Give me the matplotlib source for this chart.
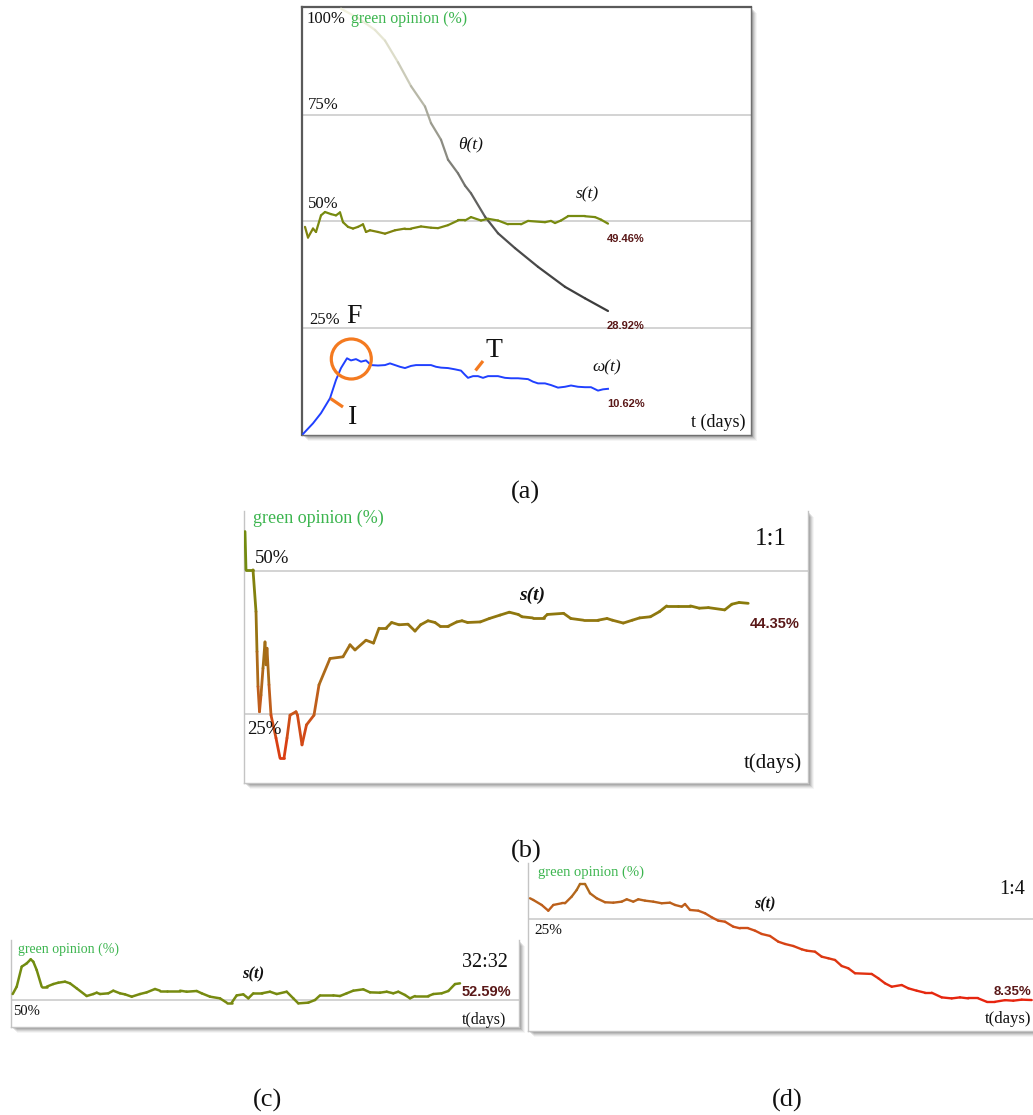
import numpy as np
import matplotlib
matplotlib.use("Agg")
import matplotlib.pyplot as plt
from matplotlib.collections import LineCollection
from matplotlib.colors import LinearSegmentedColormap, Normalize
from matplotlib.patches import Rectangle, Circle
from matplotlib.lines import Line2D

# ---------------- data ----------------
# panel (a)
a_s_t = [2, 5, 10, 13, 18, 22, 28, 33, 37, 40, 45, 50, 55, 60, 63, 67, 75, 82, 92, 102, 108, 118,
         128, 135, 145, 155, 162, 168, 178, 185, 195, 205, 218, 225, 242, 248, 252, 258, 265, 282,
         292, 298, 305]
a_s_v = [48.7, 46.2, 48.3, 47.5, 51.4, 52.2, 51.7, 51.4, 52.1, 49.8, 48.7, 48.3, 48.7, 49.3, 47.5,
         47.9, 47.5, 47.1, 47.9, 48.3, 48.3, 48.8, 48.5, 48.4, 49.1, 50.2, 50.2, 51.0, 50.2, 50.6,
         50.2, 49.3, 49.3, 50.1, 49.8, 50.1, 49.6, 50.2, 51.2, 51.2, 51.0, 50.4, 49.46]
a_theta_t = [38, 55, 72, 82, 95, 108, 122, 128, 138, 145, 155, 162, 168, 182, 195, 212, 235, 262,
             282, 305]
a_theta_v = [100, 97.8, 95, 92.5, 87.4, 81.8, 77.0, 73.1, 69.2, 64.5, 61.3, 58.4, 56.6, 51.1, 47.2,
             43.7, 39.3, 34.6, 31.9, 28.92]
a_omega_t = [0, 2, 10, 18, 27, 33, 38, 44, 48, 53, 58, 63, 68, 75, 82, 87, 92, 97, 102, 108, 113,
             118, 128, 133, 138, 145, 152, 158, 162, 165, 170, 175, 180, 185, 195, 202, 208, 215,
             225, 230, 235, 242, 248, 255, 262, 268, 275, 282, 288, 295, 300, 305]
a_omega_v = [0.0, 0.5, 2.5, 4.9, 8.4, 12.7, 15.5, 17.8, 17.3, 17.6, 17.0, 17.3, 16.2, 16.1, 16.2,
             16.6, 16.2, 15.8, 15.5, 16.0, 16.2, 16.2, 16.2, 15.8, 15.6, 15.5, 15.2, 14.9, 13.9,
             13.2, 13.6, 13.6, 13.2, 13.6, 13.6, 13.2, 13.1, 13.1, 12.9, 12.3, 11.9, 11.9, 11.5,
             10.9, 11.1, 11.4, 11.1, 11.0, 11.0, 10.2, 10.5, 10.62]

# panel (b)  ratio 1:1
b_t = [1, 2, 9, 12, 13, 14, 15.5, 17, 19, 21, 22, 23, 25, 27, 32, 36, 40, 43, 46, 52, 53.5, 58,
       62.5, 70, 75, 86, 99, 106, 111, 122, 129.5, 135, 142, 147.6, 155, 164, 171, 176.6, 184, 191,
       196.5, 203.7, 212.8, 218, 223.6, 236.3, 245.4, 256.2, 265.3, 274.3, 278, 288.8, 299.7,
       303.3, 319.6, 326.8, 339.5, 354, 363, 368.4, 379.3, 388.3, 395.6, 406.4, 415.5, 422.7,
       433.6, 446.3, 455.3, 464.4, 480.7, 487.9, 495.1, 504.2]
b_v = [56.9, 50.2, 50.2, 42.9, 35.9, 29.8, 25.4, 28.3, 33.0, 37.6, 33.6, 36.5, 30.1, 24.8, 20.8,
       17.3, 17.3, 20.8, 24.8, 25.4, 24.8, 19.6, 23.1, 24.8, 30.1, 34.7, 35.0, 37.1, 36.2, 37.9,
       37.4, 40.0, 40.0, 41.0, 40.6, 40.7, 39.5, 40.6, 41.3, 41.0, 40.3, 40.3, 41.1, 41.3, 41.0,
       41.1, 41.7, 42.3, 42.8, 42.4, 42.0, 41.8, 41.8, 42.4, 42.6, 41.7, 41.4, 41.4, 41.7, 41.4,
       40.9, 41.4, 41.8, 42.0, 42.9, 43.9, 43.9, 43.9, 43.5, 43.6, 43.2, 44.2, 44.5, 44.35]

# panel (c)  ratio 32:32
c_t = [1.7, 5.7, 10.7, 15.7, 19.7, 22.3, 25.7, 30.7, 35.7, 42.3, 47.3, 54, 59, 65.7, 75.7, 82.3,
       85.7, 89, 97.3, 102.3, 109, 114, 120.7, 129, 135.7, 144, 149, 155.7, 169, 175.7, 185.7,
       190.7, 199, 209, 215.7, 220.7, 225.7, 232.3, 237.3, 242.3, 250.7, 259, 265.7, 275.7, 282.3,
       287.3, 297.3, 304, 309, 322.3, 329, 335.7, 342.3, 352.3, 359, 369, 375.7, 382.3, 387.3, 394,
       399, 404, 417.3, 422.3, 430.7, 437.3, 444, 449]
c_v = [50.93, 52.07, 55.18, 55.69, 56.32, 55.95, 54.66, 52.07, 52.07, 52.48, 52.69, 52.85, 52.59,
       51.81, 50.62, 50.93, 51.14, 50.93, 51.04, 51.45, 51.04, 50.88, 50.52, 50.93, 51.19, 51.71,
       51.45, 51.45, 51.45, 51.29, 51.40, 51.04, 50.52, 50.26, 49.59, 49.59, 50.72, 50.88, 50.26,
       51.04, 51.04, 51.29, 50.93, 51.29, 50.26, 49.48, 49.59, 50.0, 50.72, 50.72, 50.62, 51.04,
       51.45, 51.66, 51.19, 51.14, 51.29, 51.04, 51.29, 50.78, 50.26, 50.62, 50.62, 50.93, 51.04,
       51.40, 52.48, 52.59]

# panel (d)  ratio 1:4
d_t = [2, 5.3, 13.7, 20.3, 25.3, 33.7, 37, 43.7, 48.7, 52, 57, 62, 68.7, 77, 85.3, 93.7, 98.7,
       105.3, 110.3, 117, 125.3, 133.7, 142, 147, 153.7, 157, 162, 170.3, 177, 183.7, 190.3, 197,
       205.3, 212, 220.3, 227, 233.7, 242, 250.3, 257, 265.3, 273.7, 278.7, 287, 293.7, 300.3, 307,
       313.7, 320.3, 327, 343.7, 350.3, 357, 363.7, 373.7, 380.3, 388.7, 397, 403.7, 413.7, 423.7,
       432, 440.3, 450.3, 458.7, 467, 477, 485.3, 493.7, 503.7]
d_v = [29.33, 28.98, 27.95, 26.77, 27.95, 28.30, 28.30, 29.67, 31.04, 32.28, 32.28, 30.36, 29.33,
       28.51, 28.42, 28.63, 29.12, 28.63, 29.12, 28.84, 28.63, 28.30, 28.42, 27.95, 27.60, 28.15,
       26.92, 26.77, 26.24, 25.41, 24.71, 24.50, 23.47, 23.14, 23.14, 22.65, 21.97, 21.56, 20.38,
       19.91, 19.49, 18.81, 18.53, 18.32, 17.29, 16.96, 16.61, 15.37, 14.90, 13.87, 13.73, 12.84,
       11.80, 11.10, 11.45, 10.77, 10.28, 9.86, 9.86, 8.90, 8.69, 8.90, 8.69, 8.69, 7.99, 7.99,
       8.33, 8.22, 8.43, 8.35]

final_labels = {"a_s": "49.46%", "a_theta": "28.92%", "a_omega": "10.62%",
                "b": "44.35%", "c": "52.59%", "d": "8.35%"}
ratios = {"b": "1:1", "c": "32:32", "d": "1:4"}

# ---------------- figure ----------------
W, H, DPI = 1033, 1115, 100
fig = plt.figure(figsize=(W / DPI, H / DPI), dpi=DPI)
fig.patch.set_facecolor("white")

SERIF = ["Liberation Serif", "DejaVu Serif"]
SANS = ["Liberation Sans", "DejaVu Sans"]
GREEN_TXT = "#3cb54f"
VAL_TXT = "#5a1818"
GRID = "#d0d0d0"

def rect(x0, y0, x1, y1):
    return [x0 / W, 1 - y1 / H, (x1 - x0) / W, (y1 - y0) / H]

def ftext(x, y, s, size, family=SERIF, color="#111111", **kw):
    fig.text(x / W, 1 - y / H, s, fontsize=size, family=family, color=color,
             ha="left", va="baseline", **kw)

def shadow(x0, y0, x1, y1):
    for k, a in [(6, 0.04), (5, 0.06), (4, 0.08), (3, 0.10), (2, 0.12)]:
        r = Rectangle(((x0 + k) / DPI, (H - y1 - k) / DPI), (x1 - x0) / DPI, (y1 - y0) / DPI,
                      transform=fig.dpi_scale_trans, facecolor="black", alpha=a,
                      edgecolor="none", zorder=-5)
        fig.add_artist(r)

def make_ax(x0, y0, x1, y1, xlim, ylim, grids, spine_col="#c4c4c4", top=False):
    ax = fig.add_axes(rect(x0, y0, x1, y1))
    ax.set_xlim(*xlim)
    ax.set_ylim(*ylim)
    ax.set_xticks([])
    ax.set_yticks([])
    ax.set_facecolor("white")
    for g in grids:
        ax.axhline(g, color=GRID, lw=1.3, zorder=1)
    for side, sp in ax.spines.items():
        sp.set_color(spine_col)
        sp.set_linewidth(1.0)
    ax.spines["top"].set_visible(top)
    return ax

vcmap = LinearSegmentedColormap.from_list(
    "opinion",
    [(0.0, "#ea1e0e"), (0.09, "#e5280f"), (0.236, "#dc3b12"), (0.364, "#c9561a"),
     (0.455, "#b4661c"), (0.6, "#9c7214"), (0.709, "#8a7a0c"), (0.818, "#788a10"),
     (1.0, "#6a8e10")])
vnorm = Normalize(5, 60)

def grad_line(ax, t, v, cmap, norm, lw):
    t = np.asarray(t, float)
    v = np.asarray(v, float)
    pts = np.column_stack([t, v])
    segs = np.stack([pts[:-1], pts[1:]], axis=1)
    mid = (v[:-1] + v[1:]) / 2
    lc = LineCollection(segs, colors=cmap(norm(mid)), linewidths=lw,
                        capstyle="round", joinstyle="round", zorder=3)
    ax.add_collection(lc)

# ---------------- panel (a) ----------------
shadow(302, 7, 751, 435)
axa = make_ax(302, 7, 751, 435, (-1, 448), (-0.24, 100.4), [25, 50, 75],
              spine_col="#707070", top=True)
axa.spines["top"].set_color("#5a5a5a")
axa.spines["left"].set_color("#5a5a5a")
axa.spines["top"].set_linewidth(1.6)
axa.spines["left"].set_linewidth(1.6)

theta_cmap = LinearSegmentedColormap.from_list(
    "theta", [(0.0, "#3a3a3a"), (0.3, "#555555"), (0.65, "#a8a89a"), (0.85, "#dcdcc8"),
              (1.0, "#f4f4e2")])
grad_line(axa, a_theta_t, a_theta_v, theta_cmap, Normalize(28.92, 100), 1.6)
grad_line(axa, a_s_t, a_s_v, vcmap, vnorm, 1.6)
axa.plot(a_omega_t, a_omega_v, color="#2040ff", lw=1.4, zorder=3)

ftext(306, 23, "100%", 12)
ftext(351, 23, "green opinion (%)", 11.5, color=GREEN_TXT)
ftext(307.5, 109, "75%", 12)
ftext(308, 208, "50%", 12)
ftext(309, 324, "25%", 12)
ftext(346, 323, "F", 20)
ftext(348, 424, "I", 20)
ftext(485, 357, "T", 20)
ftext(458, 148, "θ(t)", 12.5, fontstyle="italic")
ftext(576, 198, "s(t)", 12.5, fontstyle="italic")
ftext(592, 371, "ω(t)", 12.5, fontstyle="italic")
ftext(607, 242, final_labels["a_s"], 8, family=SANS, color=VAL_TXT, fontweight="bold")
ftext(607, 329, final_labels["a_theta"], 8, family=SANS, color=VAL_TXT, fontweight="bold")
ftext(607, 407, final_labels["a_omega"], 8, family=SANS, color=VAL_TXT, fontweight="bold")
ftext(691, 427, "t (days)", 13)

ORANGE = "#f47a20"
fig.add_artist(Circle((351.3 / DPI, (H - 359) / DPI), 20 / DPI, transform=fig.dpi_scale_trans,
                      fill=False, edgecolor=ORANGE, lw=2.3, zorder=10))
fig.add_artist(Line2D([330.5 / W, 343 / W], [1 - 398.5 / H, 1 - 407 / H], color=ORANGE, lw=2.3,
                      solid_capstyle="butt", zorder=10))
fig.add_artist(Line2D([475.5 / W, 483 / W], [1 - 370.5 / H, 1 - 361 / H], color=ORANGE, lw=2.3,
                      solid_capstyle="butt", zorder=10))

# ---------------- panel (b) ----------------
shadow(244, 511, 808, 783)
axb = make_ax(244, 511, 808, 783, (0, 564), (12.94, 60.49), [25, 50])
grad_line(axb, b_t, b_v, vcmap, vnorm, 2.0)
ftext(253.3, 523, "green opinion (%)", 13, color=GREEN_TXT)
ftext(755, 545, ratios["b"], 18)
ftext(255, 563, "50%", 13.5)
ftext(247, 734, "25%", 13.5)
ftext(519, 600, "s(t)", 14, fontstyle="italic", fontweight="bold")
ftext(750, 628, final_labels["b"], 10.5, family=SANS, color=VAL_TXT, fontweight="bold")
ftext(744, 768, "t(days)", 15)

# ---------------- panel (c) ----------------
shadow(11, 940, 519, 1027)
axc = make_ax(11, 940, 519, 1027, (0, 508), (45.81, 59.32), [50])
grad_line(axc, c_t, c_v, vcmap, vnorm, 1.8)
ftext(18.3, 952.5, "green opinion (%)", 10, color=GREEN_TXT)
ftext(462, 967, ratios["c"], 14.5)
ftext(242, 978, "s(t)", 12, fontstyle="italic", fontweight="bold")
ftext(462, 995.5, final_labels["c"], 10.5, family=SANS, color=VAL_TXT, fontweight="bold")
ftext(13.3, 1015, "50%", 10.5)
ftext(462, 1024, "t(days)", 11.5)

# ---------------- panel (d) ----------------
shadow(528, 863, 1045, 1031)
axd = make_ax(528, 863, 1045, 1031, (0, 517), (1.97, 36.6), [25])
grad_line(axd, d_t, d_v, vcmap, vnorm, 1.7)
ftext(537.7, 876, "green opinion (%)", 10.5, color=GREEN_TXT)
ftext(999, 894, ratios["d"], 14.5)
ftext(754, 908, "s(t)", 11.5, fontstyle="italic", fontweight="bold")
ftext(534.3, 934, "25%", 11)
ftext(994, 995, final_labels["d"], 9.5, family=SANS, color=VAL_TXT, fontweight="bold")
ftext(985, 1023, "t(days)", 12)

# ---------------- captions ----------------
ftext(511, 499, "(a)", 19)
ftext(511, 858, "(b)", 19)
ftext(253, 1107, "(c)", 19)
ftext(772, 1107, "(d)", 19)

fig.savefig("out.png", dpi=DPI, facecolor="white")
